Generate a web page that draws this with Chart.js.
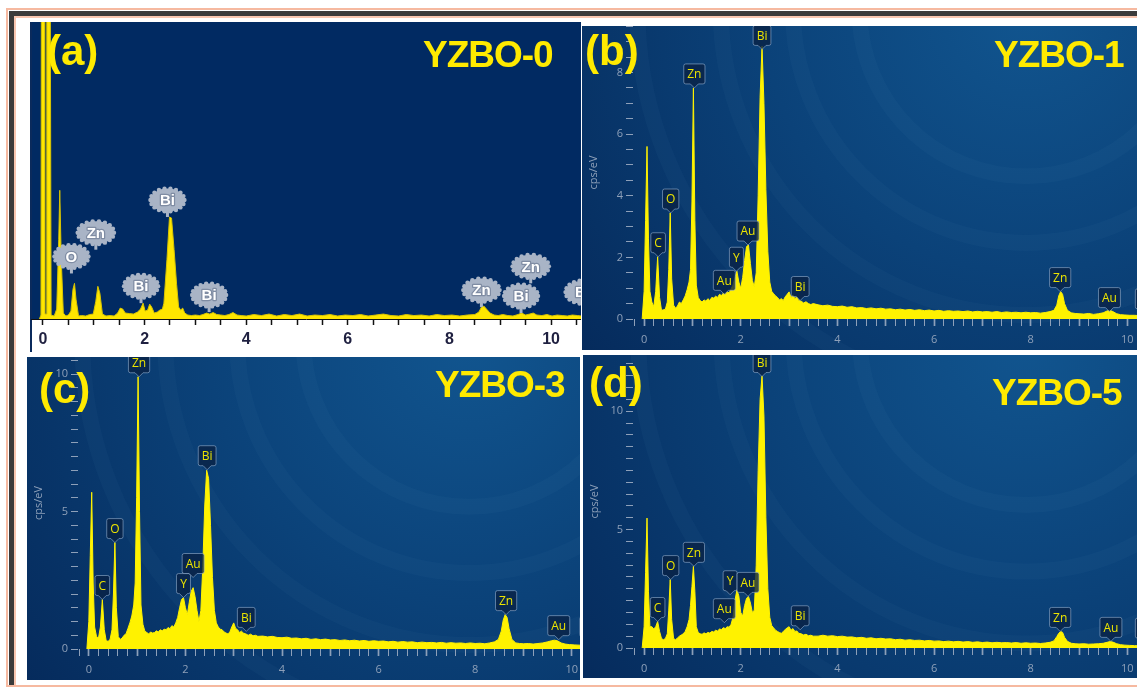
<!DOCTYPE html>
<html lang="en">
<head>
<meta charset="utf-8">
<title>EDS spectra of YZBO samples</title>
<script src="https://cdn.jsdelivr.net/npm/chart.js@4.4.1/dist/chart.umd.min.js"></script>
<style>
  html, body { margin: 0; padding: 0; background: #fff; }
  body { position: relative; width: 1137px; height: 689px; overflow: hidden; }
  .frame-outer { position: absolute; left: 6px; top: 8px; width: 1200px; height: 679px; border: 2px solid #f6b9a0; box-sizing: border-box; }
  .frame-dark { position: absolute; left: 9px; top: 11px; width: 1200px; height: 674px; border-left: 5px solid #3b3b3b; border-top: 5px solid #3b3b3b; box-sizing: border-box; box-shadow: inset 2px 2px 0 #f8c6b0; }
  .panel { position: absolute; }
  .panel canvas { display: block; }
  .tag { position: absolute; margin: 0; color: #ffea00; font-family: "Liberation Sans", Arial, sans-serif; font-weight: bold; white-space: nowrap; }
  .tag.letter { font-size: 42px; line-height: 42px; }
  .tag.sample { font-size: 37px; line-height: 37px; letter-spacing: -1px; }
</style>
</head>
<body>
<div class="frame-outer"></div>
<div class="frame-dark"></div>

<div class="panel" style="left:30px; top:22px;"><canvas id="chart-a" width="551" height="330"></canvas></div>
<div class="panel" style="left:582px; top:26px;"><canvas id="chart-b" width="555" height="324"></canvas></div>
<div class="panel" style="left:27px; top:357px;"><canvas id="chart-c" width="553" height="323"></canvas></div>
<div class="panel" style="left:583px; top:355px;"><canvas id="chart-d" width="554" height="323"></canvas></div>

<div class="tag letter" style="left:47px; top:30px;">(a)</div>
<div class="tag sample" style="left:423px; top:36px;">YZBO-0</div>
<div class="tag letter" style="left:585px; top:30px;">(b)</div>
<div class="tag sample" style="left:994px; top:36px;">YZBO-1</div>
<div class="tag letter" style="left:39px; top:368px;">(c)</div>
<div class="tag sample" style="left:435px; top:366px;">YZBO-3</div>
<div class="tag letter" style="left:589px; top:362px;">(d)</div>
<div class="tag sample" style="left:992px; top:374px;">YZBO-5</div>

<script>
// ---- YZBO-0 spectrum (older instrument, arbitrary counts) ----
const energyA = [
  -0.07, -0.04, -0.03, 0.035, 0.04, 0.07, 0.075, 0.14,
  0.16, 0.22, 0.27, 0.31, 0.33, 0.36,
  0.40, 0.45, 0.50, 0.55, 0.59, 0.62, 0.65, 0.70, 0.76, 0.84,
  0.92, 0.99, 1.04, 1.08, 1.12, 1.17, 1.24, 1.32, 1.40, 1.47,
  1.52, 1.57, 1.62, 1.70, 1.78, 1.86, 1.92, 1.97, 2.01, 2.06,
  2.10, 2.14, 2.19, 2.25, 2.30, 2.35, 2.38, 2.44, 2.49, 2.53,
  2.58, 2.63, 2.67, 2.71, 2.75, 2.79, 2.85, 2.92, 3.00, 3.08,
  3.15, 3.22, 3.28, 3.35, 3.42, 3.50, 3.58, 3.66, 3.74, 3.82,
  3.90, 4.00, 4.15, 4.30, 4.45, 4.60, 4.75, 4.90, 5.05, 5.20,
  5.35, 5.50, 5.65, 5.80, 5.95, 6.10, 6.25, 6.40, 6.55, 6.70,
  6.85, 7.00, 7.15, 7.30, 7.45, 7.60, 7.75, 7.90, 8.05, 8.20,
  8.35, 8.50, 8.58, 8.63, 8.68, 8.73, 8.80, 8.88, 8.96, 9.05,
  9.15, 9.25, 9.35, 9.42, 9.50, 9.58, 9.65, 9.72, 9.82, 9.92,
  10.02, 10.12, 10.22, 10.32, 10.42, 10.52, 10.60
];
const countsA = [
  0, 0.4, 40, 40, 0.5, 0.5, 40, 40,
  0.4, 0.3, 1.0, 8.0, 13.0, 6.0,
  0.6, 0.3, 0.4, 0.8, 3.0, 3.6, 2.0, 0.3, 0.35, 0.3,
  0.45, 0.5, 1.8, 3.3, 2.6, 0.5, 0.3, 0.35, 0.3, 0.6,
  1.1, 1.0, 0.6, 0.55, 0.5, 0.7, 1.0, 1.6, 0.8, 0.9,
  1.5, 1.2, 0.6, 0.7, 0.9, 1.0, 1.6, 6.0, 10.3, 10.2,
  7.0, 3.5, 1.2, 0.9, 1.1, 0.6, 0.4, 0.35, 0.4, 0.35,
  0.45, 0.6, 0.5, 0.65, 0.45, 0.4, 0.35, 0.45, 0.65, 0.4,
  0.35, 0.3, 0.45, 0.35, 0.5, 0.3, 0.45, 0.35, 0.5, 0.3,
  0.4, 0.35, 0.45, 0.3, 0.4, 0.35, 0.45, 0.3, 0.4, 0.5,
  0.35, 0.3, 0.45, 0.35, 0.4, 0.3, 0.45, 0.35, 0.4, 0.3,
  0.4, 0.45, 0.7, 1.2, 1.3, 1.0, 0.6, 0.4, 0.35, 0.45,
  0.35, 0.3, 0.45, 0.6, 0.4, 0.5, 0.6, 0.4, 0.35, 0.45,
  0.3, 0.4, 0.35, 0.3, 0.4, 0.35, 0.3
];
const tagNamesA = ['Zn', 'O', 'Bi', 'Bi', 'Bi', 'Zn', 'Zn', 'Bi', 'Bi'];
const tagEnergyA = [1.04, 0.56, 1.93, 2.45, 3.27, 8.63, 9.6, 9.41, 10.62];
const tagHeightA = [7.0, 4.6, 1.6, 10.3, 0.7, 1.2, 3.6, 0.6, 1.0];

// ---- YZBO-1/3/5 spectra share one energy grid (keV) ----
const energyKeV = [
  -0.04, 0.00, 0.03, 0.06, 0.09, 0.12,
  0.16, 0.20, 0.24, 0.28, 0.32, 0.36, 0.40, 0.44, 0.48,
  0.51, 0.54, 0.57,
  0.61, 0.65, 0.69, 0.73, 0.77, 0.81, 0.85, 0.89, 0.93,
  0.96, 0.99, 1.02, 1.05, 1.08,
  1.12, 1.16, 1.20, 1.24, 1.28, 1.32, 1.36, 1.40, 1.44, 1.48,
  1.52, 1.56, 1.60, 1.64, 1.68, 1.72, 1.76, 1.80, 1.84, 1.88,
  1.92, 1.96, 2.00, 2.04, 2.08, 2.12, 2.16, 2.20, 2.24, 2.28,
  2.32, 2.36, 2.40, 2.44, 2.48, 2.52, 2.56, 2.60, 2.64, 2.68,
  2.72, 2.76, 2.80, 2.84, 2.88, 2.92, 2.96, 3.00, 3.04, 3.08,
  3.12, 3.16, 3.20,
  3.25, 3.30, 3.35, 3.40, 3.45, 3.50,
  3.6, 3.7, 3.8, 3.9, 4.0, 4.1, 4.2, 4.3, 4.4, 4.5,
  4.6, 4.7, 4.8, 4.9, 5.0, 5.1, 5.2, 5.3, 5.4, 5.5,
  5.6, 5.7, 5.8, 5.9, 6.0, 6.1, 6.2, 6.3, 6.4, 6.5,
  6.6, 6.7, 6.8, 6.9, 7.0, 7.1, 7.2, 7.3, 7.4, 7.5,
  7.6, 7.7, 7.8, 7.9, 8.0, 8.1, 8.2, 8.3, 8.4,
  8.48, 8.54, 8.58, 8.62, 8.66, 8.70, 8.76, 8.84, 8.92,
  9.00, 9.10, 9.20, 9.30, 9.40, 9.50,
  9.58, 9.64, 9.70, 9.78, 9.86, 9.95, 10.05, 10.15, 10.25
];

// cps/eV, YZBO-1
const countsB = [
  0, 0.9, 3.2, 5.6, 2.6, 0.9,
  0.55, 0.4, 0.9, 2.02, 0.7, 0.28, 0.3, 0.32, 0.55,
  1.6, 3.44, 1.3,
  0.45, 0.35, 0.42, 0.55, 0.5, 0.62, 0.75, 0.95, 1.2,
  1.6, 3.8, 7.5, 3.2, 1.1,
  0.7, 0.6, 0.55, 0.62, 0.58, 0.66, 0.6, 0.7, 0.68, 0.74,
  0.7, 0.8, 0.76, 0.84, 0.8, 0.88, 0.85, 0.98, 1.1, 1.35,
  1.55, 1.2, 1.0, 1.35, 1.9, 2.35, 2.4, 1.8, 1.25, 1.05,
  1.5, 4.0, 7.2, 8.85, 7.0, 4.2, 2.2, 1.2, 0.9, 0.82,
  0.75, 0.7, 0.62, 0.66, 0.6, 0.72, 0.8, 0.88, 0.7, 0.78,
  0.66, 0.72, 0.6,
  0.58, 0.52, 0.56, 0.5, 0.47, 0.5,
  0.46, 0.43, 0.45, 0.41, 0.4, 0.42, 0.38, 0.4, 0.36, 0.37,
  0.34, 0.36, 0.33, 0.35, 0.32, 0.33, 0.3, 0.32, 0.29, 0.31,
  0.28, 0.3, 0.27, 0.29, 0.26, 0.28, 0.25, 0.27, 0.25, 0.26,
  0.24, 0.26, 0.23, 0.25, 0.23, 0.24, 0.22, 0.24, 0.21, 0.23,
  0.21, 0.22, 0.2, 0.22, 0.2, 0.21, 0.19, 0.21, 0.24,
  0.28, 0.45, 0.75, 0.89, 0.8, 0.5, 0.28, 0.2, 0.18,
  0.17, 0.16, 0.18, 0.15, 0.17, 0.2,
  0.26, 0.28, 0.24, 0.17, 0.14, 0.13, 0.12, 0.12, 0.11
];

// cps/eV, YZBO-3
const countsC = [
  0, 1.0, 3.4, 5.7, 2.4, 0.8,
  0.45, 0.4, 0.8, 1.8, 0.7, 0.3, 0.28, 0.35, 0.7,
  2.0, 3.87, 1.5,
  0.45, 0.35, 0.4, 0.5, 0.55, 0.75, 0.95, 1.2, 1.6,
  2.4, 5.5, 9.9, 5.0, 1.6,
  0.9, 0.65, 0.6, 0.55, 0.62, 0.58, 0.6, 0.66, 0.62, 0.7,
  0.66, 0.72, 0.7, 0.78, 0.74, 0.85, 0.8, 0.95, 1.15, 1.5,
  1.8, 1.87, 1.5, 1.25, 1.7, 2.1, 2.23, 1.9, 1.4, 1.0,
  1.4, 3.0, 5.2, 6.5, 6.2, 4.5, 2.6, 1.4, 0.95, 0.8,
  0.72, 0.7, 0.62, 0.58, 0.55, 0.62, 0.8, 0.95, 0.75, 0.7,
  0.6, 0.65, 0.58,
  0.55, 0.5, 0.54, 0.48, 0.5, 0.46,
  0.47, 0.44, 0.46, 0.42, 0.41, 0.43, 0.39, 0.4, 0.37, 0.39,
  0.35, 0.37, 0.34, 0.36, 0.33, 0.34, 0.31, 0.33, 0.3, 0.32,
  0.29, 0.31, 0.28, 0.3, 0.28, 0.29, 0.26, 0.28, 0.25, 0.27,
  0.25, 0.26, 0.23, 0.25, 0.23, 0.24, 0.22, 0.24, 0.21, 0.23,
  0.21, 0.22, 0.2, 0.22, 0.2, 0.21, 0.19, 0.22, 0.26,
  0.35, 0.65, 1.05, 1.25, 1.15, 0.75, 0.35, 0.22, 0.2,
  0.19, 0.2, 0.18, 0.2, 0.22, 0.26,
  0.3, 0.32, 0.3, 0.22, 0.18, 0.16, 0.15, 0.14, 0.14
];

// cps/eV, YZBO-5
const countsD = [
  0, 0.9, 3.2, 5.49, 2.4, 0.9,
  0.9, 0.8, 0.9, 1.12, 0.7, 0.4, 0.35, 0.4, 0.6,
  1.6, 2.89, 1.2,
  0.4, 0.35, 0.42, 0.5, 0.55, 0.6, 0.7, 0.9, 1.2,
  1.8, 2.6, 3.45, 2.4, 0.9,
  0.65, 0.6, 0.58, 0.64, 0.6, 0.66, 0.63, 0.7, 0.68, 0.75,
  0.72, 0.8, 0.78, 0.86, 0.82, 0.9, 0.88, 1.0, 1.3, 2.0,
  2.45, 2.2, 1.5, 1.35, 1.8, 2.1, 2.18, 1.9, 1.5, 1.6,
  3.5, 7.5, 10.5, 11.5, 9.8, 5.5, 2.5, 1.3, 0.95, 0.85,
  0.75, 0.7, 0.65, 0.62, 0.7, 0.78, 0.85, 0.9, 0.75, 0.82,
  0.7, 0.72, 0.62,
  0.6, 0.55, 0.58, 0.52, 0.54, 0.5,
  0.5, 0.54, 0.5, 0.52, 0.48, 0.5, 0.46, 0.47, 0.43, 0.45,
  0.41, 0.43, 0.39, 0.41, 0.38, 0.39, 0.35, 0.37, 0.33, 0.35,
  0.32, 0.33, 0.3, 0.32, 0.29, 0.3, 0.27, 0.29, 0.26, 0.28,
  0.25, 0.27, 0.24, 0.26, 0.23, 0.25, 0.22, 0.24, 0.22, 0.23,
  0.21, 0.23, 0.2, 0.22, 0.2, 0.21, 0.19, 0.21, 0.24,
  0.3, 0.48, 0.62, 0.7, 0.66, 0.45, 0.28, 0.2, 0.18,
  0.17, 0.18, 0.16, 0.17, 0.18, 0.2,
  0.24, 0.27, 0.25, 0.18, 0.14, 0.12, 0.11, 0.1, 0.1
];

// element tags: energy of the pointer tip and the height it points at
const tagNamesB = ['C', 'O', 'Zn', 'Au', 'Y', 'Au', 'Bi', 'Bi', 'Zn', 'Au', 'Bi'];
const tagEnergyB = [0.29, 0.55, 1.04, 1.66, 1.91, 2.15, 2.44, 3.23, 8.61, 9.63, 10.35];
const tagHeightB = [2.02, 3.44, 7.5, 0.8, 1.55, 2.4, 8.75, 0.6, 0.89, 0.24, 0.2];

const tagNamesC = ['C', 'O', 'Zn', 'Y', 'Au', 'Bi', 'Bi', 'Zn', 'Au', 'Bi'];
const tagEnergyC = [0.28, 0.54, 1.04, 1.96, 2.16, 2.45, 3.26, 8.64, 9.73, 10.35];
const tagHeightC = [1.8, 3.87, 9.9, 1.87, 2.6, 6.52, 0.64, 1.25, 0.34, 0.3];

const tagNamesD = ['C', 'O', 'Zn', 'Au', 'Y', 'Au', 'Bi', 'Bi', 'Zn', 'Au', 'Bi'];
const tagEnergyD = [0.28, 0.55, 1.03, 1.66, 1.78, 2.15, 2.44, 3.23, 8.61, 9.66, 10.35];
const tagHeightD = [1.12, 2.89, 3.45, 1.07, 2.25, 2.18, 11.47, 0.77, 0.7, 0.28, 0.25];

const tickGrey = '#8ea0b9';
const yellow = '#fff200';
Chart.defaults.font.family = '"Open Sans", "DejaVu Sans", sans-serif';

const isWhole = (v) => Math.abs(v - Math.round(v)) < 1e-6;

// panel background: flat navy plot area, or the blue radial backdrop of the newer software
function backdrop(style) {
  return {
    id: 'backdrop',
    beforeDraw(chart) {
      const { ctx, width, height, chartArea } = chart;
      ctx.save();
      if (style === 'flat') {
        ctx.fillStyle = '#012a62';
        ctx.fillRect(chartArea.left, 0, chartArea.right - chartArea.left, chartArea.bottom);
        ctx.fillStyle = '#0a2a5c';
        ctx.fillRect(0, 0, 2, height);
      } else {
        const cx = width * 0.8, cy = -height * 0.05;
        const g = ctx.createRadialGradient(cx, cy, 0, cx, cy, width * 1.05);
        g.addColorStop(0, '#11558f');
        g.addColorStop(0.45, '#0b4279');
        g.addColorStop(1, '#05295a');
        ctx.fillStyle = g;
        ctx.fillRect(0, 0, width, height);
        ctx.strokeStyle = 'rgba(140, 185, 240, 0.035)';
        ctx.lineWidth = 16;
        [0.3, 0.42, 0.55, 0.7].forEach((r) => {
          ctx.beginPath();
          ctx.arc(cx, cy, width * r, 0, Math.PI * 2);
          ctx.stroke();
        });
      }
      ctx.restore();
    }
  };
}

// boxed element tag with a pointer
function drawBox(ctx, name, px, py) {
  ctx.font = '12px "Open Sans", "DejaVu Sans", sans-serif';
  const w = Math.max(14, ctx.measureText(name).width + 7);
  const h = 20;
  const bottom = py - 4;
  const top = bottom - h;
  const left = px - w / 2;
  const right = left + w;
  ctx.beginPath();
  ctx.moveTo(left + 2, top);
  ctx.lineTo(right - 2, top);
  ctx.quadraticCurveTo(right, top, right, top + 2);
  ctx.lineTo(right, bottom - 2);
  ctx.quadraticCurveTo(right, bottom, right - 2, bottom);
  ctx.lineTo(px + 4, bottom);
  ctx.lineTo(px, bottom + 4);
  ctx.lineTo(px - 4, bottom);
  ctx.lineTo(left + 2, bottom);
  ctx.quadraticCurveTo(left, bottom, left, bottom - 2);
  ctx.lineTo(left, top + 2);
  ctx.quadraticCurveTo(left, top, left + 2, top);
  ctx.closePath();
  ctx.fillStyle = 'rgba(9, 33, 68, 0.78)';
  ctx.fill();
  ctx.strokeStyle = 'rgba(150, 176, 208, 0.6)';
  ctx.lineWidth = 1;
  ctx.stroke();
  ctx.fillStyle = '#ece400';
  ctx.textAlign = 'center';
  ctx.textBaseline = 'middle';
  ctx.fillText(name, px, top + h / 2 + 1);
}

// grey cloud-shaped tag used by the older software
function drawBubble(ctx, name, px, py) {
  ctx.font = 'bold 15px "Liberation Sans", Arial, sans-serif';
  const rx = Math.max(17, ctx.measureText(name).width / 2 + 9);
  const ry = 11.5;
  const cy = py - 17;
  ctx.fillStyle = '#a9b4c6';
  ctx.fillRect(px - 1.5, cy + ry - 2, 3, py - (cy + ry - 2));
  ctx.beginPath();
  ctx.ellipse(px, cy, rx, ry, 0, 0, Math.PI * 2);
  ctx.fill();
  for (let k = 0; k < 18; k++) {
    const a = (k / 18) * Math.PI * 2;
    ctx.beginPath();
    ctx.arc(px + Math.cos(a) * rx, cy + Math.sin(a) * ry, 2.2, 0, Math.PI * 2);
    ctx.fill();
  }
  ctx.textAlign = 'center';
  ctx.textBaseline = 'middle';
  ctx.lineJoin = 'round';
  ctx.lineWidth = 2.5;
  ctx.strokeStyle = '#7f8ca3';
  ctx.strokeText(name, px, cy + 1);
  ctx.fillStyle = '#ffffff';
  ctx.fillText(name, px, cy + 1);
}

function peakTags(names, energies, heights, bubble) {
  return {
    id: 'peakTags',
    afterDatasetsDraw(chart) {
      const { ctx } = chart;
      const xs = chart.scales.x, ys = chart.scales.y;
      ctx.save();
      names.forEach((name, i) => {
        const px = xs.getPixelForValue(energies[i]);
        const py = ys.getPixelForValue(heights[i]);
        if (bubble) drawBubble(ctx, name, px, py);
        else drawBox(ctx, name, px, py);
      });
      ctx.restore();
    }
  };
}

function energyAxis(min, max, axisHeight) {
  return {
    type: 'linear',
    min, max,
    afterFit: (s) => { s.height = axisHeight; s.paddingLeft = 0; s.paddingRight = 0; },
    border: { display: false },
    grid: {
      drawOnChartArea: false,
      tickLength: 7,
      tickColor: tickGrey,
      tickWidth: (c) => (c.tick && isWhole(c.tick.value) ? 1.7 : 1)
    },
    ticks: {
      stepSize: 0.2, maxTicksLimit: 1000, includeBounds: false, autoSkip: false,
      maxRotation: 0, padding: 7, color: tickGrey, font: { size: 11 },
      callback: (v) => (isWhole(v) && Math.round(v) % 2 === 0 ? String(Math.round(v)) : '')
    }
  };
}

function countAxis(max, labelEvery, axisWidth) {
  return {
    min: 0, max,
    afterFit: (s) => { s.width = axisWidth; s.paddingTop = 0; s.paddingBottom = 0; },
    border: { display: false },
    grid: { drawOnChartArea: false, tickLength: 7, tickColor: tickGrey },
    ticks: {
      stepSize: 0.5, maxTicksLimit: 1000, includeBounds: false, autoSkip: false,
      padding: 3, color: tickGrey, font: { size: 11 },
      callback: (v) => (isWhole(v) && Math.round(v) % labelEvery === 0 ? String(Math.round(v)) : '')
    },
    title: { display: true, text: 'cps/eV', color: tickGrey, font: { size: 11 }, padding: { top: 5, bottom: 0 } }
  };
}

function spectrum(canvasId, energies, counts, opts) {
  const points = energies.map((e, i) => ({ x: e, y: counts[i] }));
  return new Chart(document.getElementById(canvasId), {
    type: 'line',
    data: {
      datasets: [{
        data: points,
        borderColor: opts.line,
        backgroundColor: opts.fill,
        borderWidth: 1,
        fill: 'origin',
        pointRadius: 0,
        tension: 0
      }]
    },
    options: {
      responsive: false,
      animation: false,
      devicePixelRatio: 1,
      layout: { padding: { left: opts.padLeft || 0 } },
      plugins: { legend: { display: false }, tooltip: { enabled: false } },
      scales: { x: opts.x, y: opts.y }
    },
    plugins: [backdrop(opts.backdrop), opts.tags]
  });
}

// (a) YZBO-0
spectrum('chart-a', energyA, countsA, {
  line: '#d8c400',
  fill: '#ffe600',
  backdrop: 'flat',
  padLeft: 1,
  x: {
    type: 'linear',
    min: -0.236, max: 10.59,
    afterFit: (s) => { s.height = 33; s.paddingLeft = 0; s.paddingRight = 0; },
    border: { display: true, color: '#111111', width: 1 },
    grid: { drawOnChartArea: false, tickLength: 6, tickColor: '#111111', tickWidth: 1.5 },
    ticks: {
      stepSize: 0.5, maxTicksLimit: 1000, includeBounds: false, autoSkip: false,
      maxRotation: 0, padding: 5, color: '#1f2040',
      font: { size: 16, weight: 'bold', family: '"Liberation Sans", Arial, sans-serif' },
      callback: (v) => (isWhole(v) && Math.round(v) % 2 === 0 ? String(Math.round(v)) : '')
    }
  },
  y: { display: false, min: 0, max: 30 },
  tags: peakTags(tagNamesA, tagEnergyA, tagHeightA, true)
});

// (b) YZBO-1
spectrum('chart-b', energyKeV, countsB, {
  line: yellow, fill: yellow, backdrop: 'radial',
  x: energyAxis(-0.23, 10.2, 31),
  y: countAxis(9.51, 2, 51),
  tags: peakTags(tagNamesB, tagEnergyB, tagHeightB, false)
});

// (c) YZBO-3
spectrum('chart-c', energyKeV, countsC, {
  line: yellow, fill: yellow, backdrop: 'radial',
  x: energyAxis(-0.224, 10.17, 31),
  y: countAxis(10.62, 5, 51),
  tags: peakTags(tagNamesC, tagEnergyC, tagHeightC, false)
});

// (d) YZBO-5
spectrum('chart-d', energyKeV, countsD, {
  line: yellow, fill: yellow, backdrop: 'radial',
  x: energyAxis(-0.23, 10.2, 30),
  y: countAxis(12.38, 5, 50),
  tags: peakTags(tagNamesD, tagEnergyD, tagHeightD, false)
});
</script>
</body>
</html>
